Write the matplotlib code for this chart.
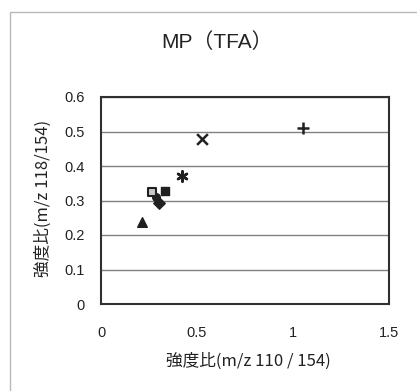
import matplotlib
matplotlib.use("Agg")
import matplotlib.pyplot as plt
from matplotlib.patches import Rectangle

plt.rcParams['font.family'] = ['Liberation Sans', 'Noto Sans CJK JP', 'DejaVu Sans']

# data (one point per series)
series_x = [0.302, 0.335, 0.215, 0.527, 0.42, 0.285, 1.05, 0.267]
series_y = [0.292, 0.328, 0.238, 0.477, 0.371, 0.311, 0.51, 0.326]
markers = ['D', 's', '^', 'x', '*', 'o', '+', 's']
filled = [True, True, True, True, True, True, True, False]
sizes = [34, 36, 48, 60, 55, 30, 70, 34]

xticks = [0, 0.5, 1, 1.5]
xtick_labels = ['0', '0.5', '1', '1.5']
yticks = [0, 0.1, 0.2, 0.3, 0.4, 0.5, 0.6]
ytick_labels = ['0', '0.1', '0.2', '0.3', '0.4', '0.5', '0.6']

W, H = 417, 391
fig = plt.figure(figsize=(W / 100, H / 100), dpi=100)
fig.patch.set_facecolor('white')
fig.patches.append(Rectangle((10 / W, -0.1), 1.2, (H - 12) / H + 0.1,
                             transform=fig.transFigure, fill=False,
                             edgecolor='#b8b8b8', linewidth=1.0))

ax = fig.add_axes([101 / W, 1 - 304 / H, (389 - 101) / W, (304 - 97) / H])
for x, y, m, f, s in zip(series_x, series_y, markers, filled, sizes):
    if m in ('x', '+'):
        ax.scatter(x, y, marker=m, s=s, c='#202020', linewidths=1.8, zorder=3)
    elif m == '*':
        ax.scatter(x, y, marker=(6, 2, 0), s=s, c='#202020', linewidths=1.8, zorder=3)
    elif f:
        ax.scatter(x, y, marker=m, s=s, c='#202020', edgecolors='#202020', zorder=3)
    else:
        ax.scatter(x, y, marker=m, s=s, facecolors='#c8c8c8', edgecolors='#202020',
                   linewidths=1.5, zorder=3)

ax.set_xlim(0, 1.5)
ax.set_ylim(0, 0.6)
ax.set_xticks(xticks)
ax.set_xticklabels(xtick_labels)
ax.set_yticks(yticks)
ax.set_yticklabels(ytick_labels)
ax.tick_params(axis='both', length=0, labelsize=10.5, colors='#222222')
ax.tick_params(axis='x', pad=16)
ax.tick_params(axis='y', pad=12)
ax.yaxis.grid(True, color='#808080', linewidth=1.0)
ax.set_axisbelow(True)
for sp in ax.spines.values():
    sp.set_color('#303030')
    sp.set_linewidth(1.5)

fig.text(217 / W, 1 - 42 / H, 'MP（TFA）', ha='center', va='center', fontsize=15,
         family=['Liberation Sans', 'Noto Sans CJK JP'], color='#222222')
fig.text(248 / W, 1 - 361 / H, '強度比(m/z 110 / 154)', ha='center', va='center',
         fontsize=12, family=['Noto Sans CJK JP'], color='#222222')
fig.text(43 / W, 1 - 198 / H, '強度比(m/z 118/154)', ha='center', va='center',
         rotation=90, fontsize=12, family=['Noto Sans CJK JP'], color='#222222')

fig.savefig('out.png', dpi=100)
